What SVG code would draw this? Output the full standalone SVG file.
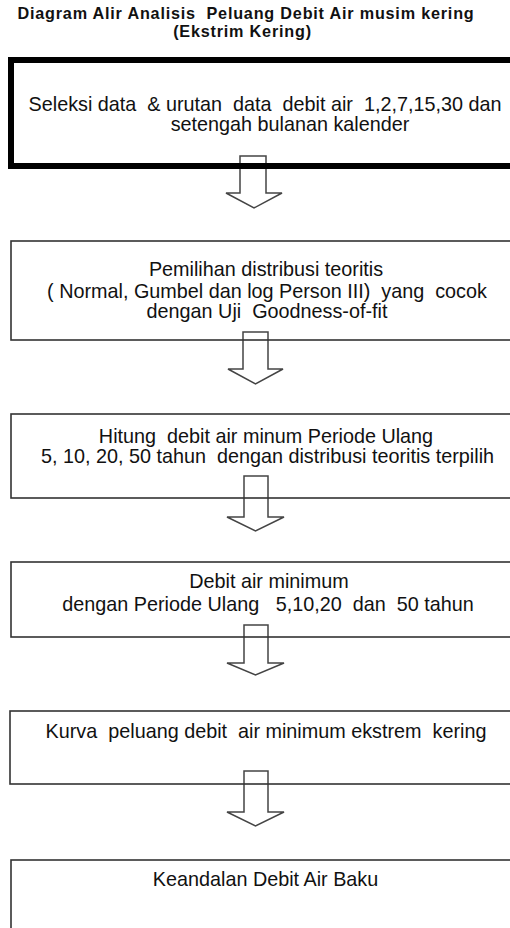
<svg xmlns="http://www.w3.org/2000/svg" width="510" height="928" viewBox="0 0 510 928">
<style>
.t{font-family:"Liberation Sans",Arial,sans-serif;font-size:19.8px;fill:#111;text-anchor:middle;white-space:pre}
.h{font-family:"Liberation Sans",Arial,sans-serif;font-size:16.2px;letter-spacing:0.8px;font-weight:bold;fill:#111;text-anchor:middle;white-space:pre}
.b{fill:none;stroke:#333;stroke-width:1.6}
.bt{fill:none;stroke:#000;stroke-width:6}
.a{fill:none;stroke:#444;stroke-width:1.5;stroke-linejoin:miter}
</style>
<rect width="510" height="928" fill="#fff"/>
<g id="title">
<text class="h" x="246" y="18.5" xml:space="preserve">Diagram Alir Analisis  Peluang Debit Air musim kering</text>
<text class="h" x="242.5" y="36.6" xml:space="preserve">(Ekstrim Kering)</text>
</g>
<g id="connectors">
<polygon class="a" points="240,156 266,156 266,193 282,193 254,208 226,193 240,193"/>
<polygon class="a" points="243,332 268,332 268,369 283,369 255.5,384 228,369 243,369"/>
<polygon class="a" points="244,476 268,476 268,517 284,517 255.5,531 227,517 244,517"/>
<polygon class="a" points="244,625 268,625 268,663 284,663 255.5,675 227,663 244,663"/>
<polygon class="a" points="244,771 268,771 268,812 284,812 255.5,826 227,812 244,812"/>
</g>
<g id="node1">
<rect class="bt" x="11" y="60" width="515" height="106"/>
<text class="t" x="265" y="111" xml:space="preserve">Seleksi data  &amp; urutan  data  debit air  1,2,7,15,30 dan</text>
<text class="t" x="290" y="131" xml:space="preserve">setengah bulanan kalender</text>
</g>
<g id="node2">
<rect class="b" x="11" y="241" width="515" height="99"/>
<text class="t" x="266" y="276" xml:space="preserve">Pemilihan distribusi teoritis</text>
<text class="t" x="267" y="298" xml:space="preserve">( Normal, Gumbel dan log Person III)  yang  cocok</text>
<text class="t" x="267" y="318" xml:space="preserve">dengan Uji  Goodness-of-fit</text>
</g>
<g id="node3">
<rect class="b" x="11" y="414" width="515" height="84"/>
<text class="t" x="266" y="443" xml:space="preserve">Hitung  debit air minum Periode Ulang</text>
<text class="t" x="267.5" y="463" xml:space="preserve">5, 10, 20, 50 tahun  dengan distribusi teoritis terpilih</text>
</g>
<g id="node4">
<rect class="b" x="11" y="562" width="515" height="75"/>
<text class="t" x="269" y="588" xml:space="preserve">Debit air minimum</text>
<text class="t" x="268" y="611" xml:space="preserve">dengan Periode Ulang   5,10,20  dan  50 tahun</text>
</g>
<g id="node5">
<rect class="b" x="10" y="711" width="516" height="73"/>
<text class="t" x="266" y="738" xml:space="preserve">Kurva  peluang debit  air minimum ekstrem  kering</text>
</g>
<g id="node6">
<rect class="b" x="11" y="860" width="515" height="90"/>
<text class="t" x="265.5" y="886" xml:space="preserve">Keandalan Debit Air Baku</text>
</g>
</svg>
